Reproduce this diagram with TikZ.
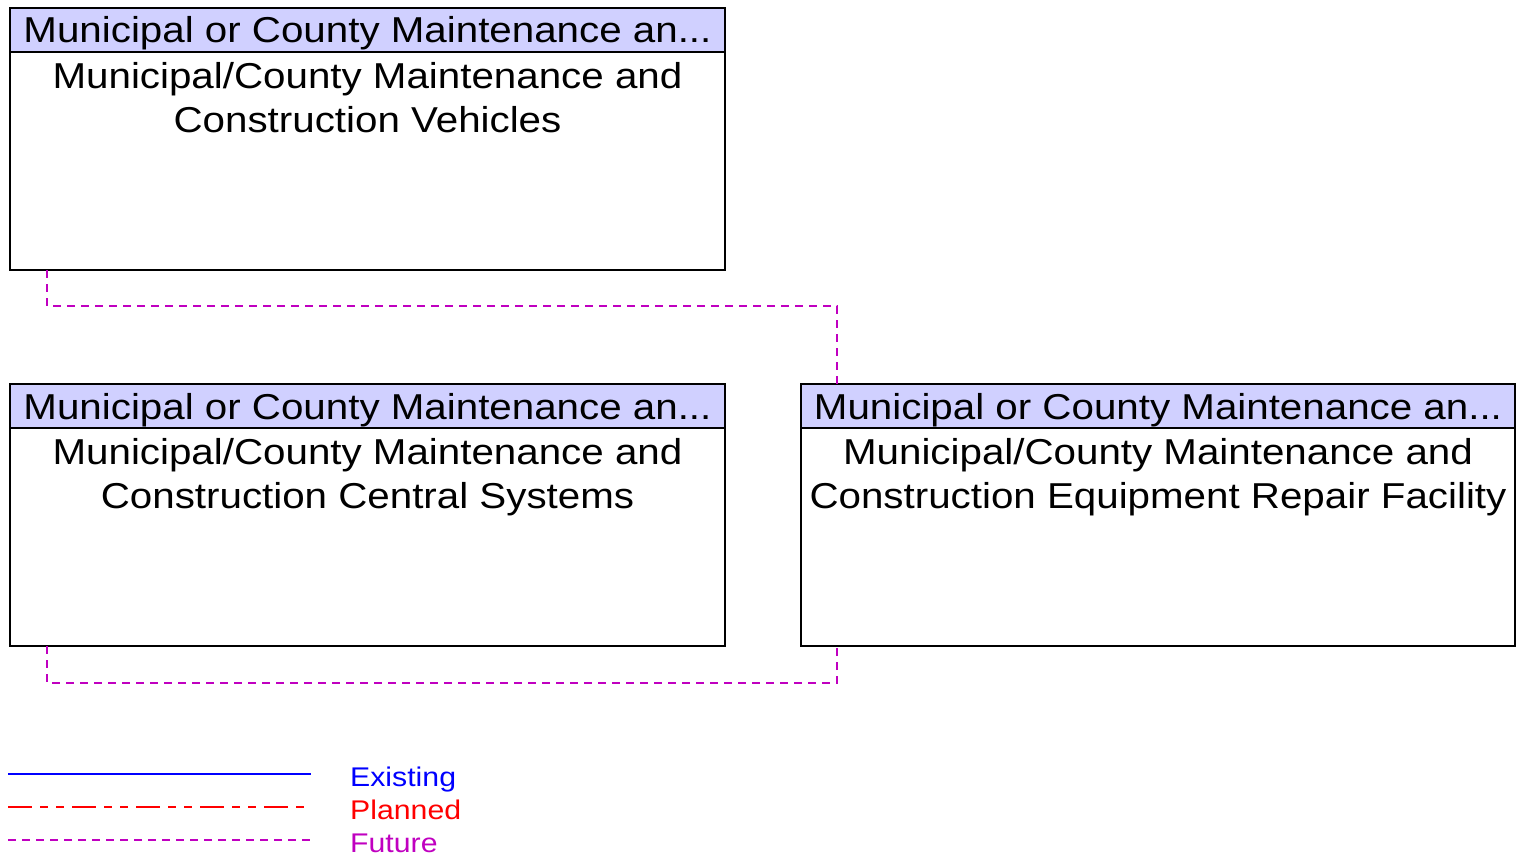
\documentclass[tikz,border=0pt]{standalone}
\usepackage{fontspec}
\setmainfont{Liberation Sans}[FakeStretch=1.12]
\usetikzlibrary{positioning}
\definecolor{headfill}{RGB}{208,208,255}
\definecolor{futurecol}{RGB}{192,0,192}
\tikzstyle{box}=[draw,fill=white,rectangle,line width=1.3pt,minimum width=715pt,minimum height=262pt,inner sep=0pt,outer sep=0pt]
\tikzstyle{head}=[draw,fill=headfill,rectangle,line width=1.3pt,minimum width=715pt,minimum height=44pt,inner sep=0pt,outer sep=0pt,text height=29pt,text depth=3pt,font=\fontsize{36}{44}\selectfont]
\tikzstyle{body}=[align=center,inner sep=0pt,font=\fontsize{36}{44}\selectfont]
\tikzstyle{future}=[draw=futurecol,line width=1.5pt,dash pattern=on 8pt off 6pt]
\tikzstyle{planned}=[draw=red,line width=1.5pt,dash pattern=on 24pt off 8pt on 8pt off 8pt on 8pt off 8pt]
\tikzstyle{existing}=[draw=blue,line width=2.6pt]
\tikzstyle{key}=[anchor=base west,inner sep=0pt,font=\fontsize{27}{30}\selectfont]

\begin{document}
\begin{tikzpicture}[x=1pt,y=-1pt]
    \useasboundingbox (0,0) rectangle (1518,856);
    % element boxes
    \node[box, anchor=north west] (veh) at (10,8) {};
    \node[box, below=114pt of veh] (cen) {};
    \node[box, right=76pt of cen, minimum width=714pt] (rep) {};
    \node[head, anchor=north] (vehhead) at (veh.north) {Municipal or County Maintenance an...};
    \node[head, anchor=north] (cenhead) at (cen.north) {Municipal or County Maintenance an...};
    \node[head, anchor=north, minimum width=714pt] (rephead) at (rep.north) {Municipal or County Maintenance an...};
    \node[body, anchor=north, yshift=-10pt] (vehtxt) at (vehhead.south) {Municipal/County Maintenance and\\Construction Vehicles};
    \node[body, anchor=north, yshift=-10pt] (centxt) at (cenhead.south) {Municipal/County Maintenance and\\Construction Central Systems};
    \node[body, anchor=north, yshift=-10pt] (reptxt) at (rephead.south) {Municipal/County Maintenance and\\Construction Equipment Repair Facility};
    % flows
    \draw[future] ([xshift=37pt]veh.south west) -- ++(0,36) -| ([xshift=36pt]rephead.north west);
    \draw[future] ([xshift=37pt]cen.south west) -- ++(0,37) -| ([xshift=36pt]rep.south west);
    % legend
    \coordinate (ex1) at (8,774);
    \coordinate (ex2) at (311,774);
    \coordinate (pl1) at (8,807);
    \coordinate (pl2) at (311,807);
    \coordinate (fu1) at (8,840);
    \coordinate (fu2) at (311,840);
    \draw[existing] (ex1) -- (ex2);
    \draw[planned] (pl1) -- (pl2);
    \draw[future] (fu1) -- (fu2);
    \node[key, text=blue] (extxt) at (350,786) {Existing};
    \node[key, text=red] (pltxt) at (350,819) {Planned};
    \node[key, text=futurecol] (futxt) at (350,852) {Future};
\end{tikzpicture}
\end{document}
